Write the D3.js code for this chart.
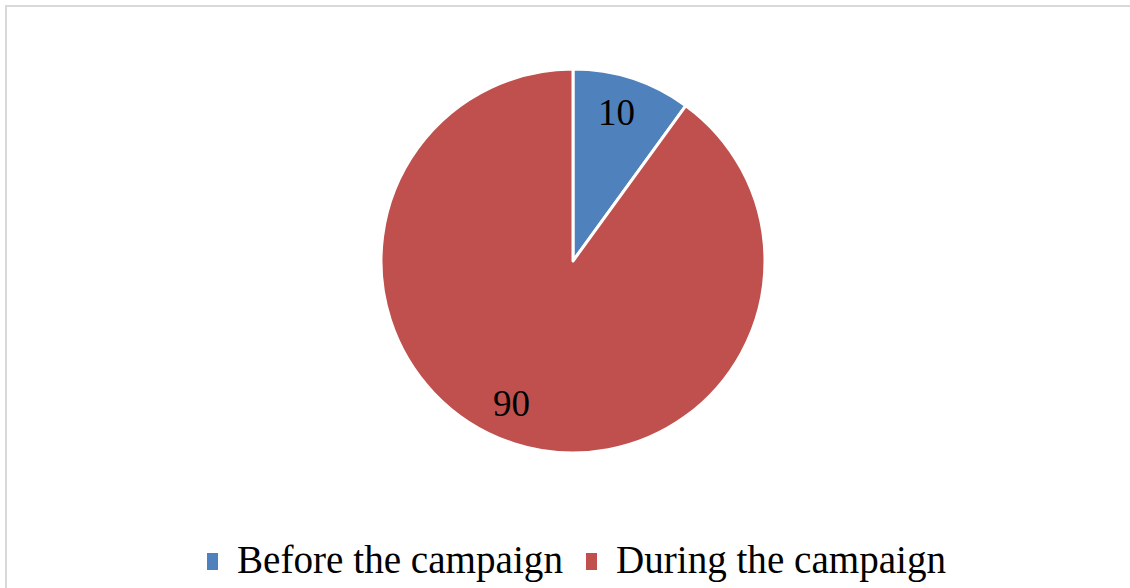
<!DOCTYPE html>
<html><head><meta charset="utf-8">
<script src="https://cdn.jsdelivr.net/npm/d3@7"></script>
<style>html,body{margin:0;padding:0;background:#fff;overflow:hidden}</style>
</head><body>
<svg id="c" width="1130" height="588"></svg>
<script>
const categories = ["Before the campaign", "During the campaign"];
const values = [10, 90];
const colors = ["#4f81bd", "#c0504d"];

const svg = d3.select("#c");
svg.append("rect").attr("x", 6).attr("y", 6).attr("width", 1140).attr("height", 600)
  .attr("fill", "none").attr("stroke", "#d9d9d9").attr("stroke-width", 2);

const cx = 573, cy = 261, R = 192;
const pie = d3.pie().sort(null).value(d => d)(values);
const arc = d3.arc().innerRadius(0).outerRadius(R);
const labelArc = d3.arc().innerRadius(154).outerRadius(154);
// Excel-like label nudges (px)
const nudgeX = [-4, -14], nudgeY = [-2, -3];
const g = svg.append("g").attr("transform", `translate(${cx},${cy})`);
g.selectAll("path").data(pie).join("path")
  .attr("d", arc).attr("fill", (d, i) => colors[i])
  .attr("stroke", "#fff").attr("stroke-width", 3).attr("stroke-linejoin", "round");
g.selectAll("text").data(pie).join("text")
  .attr("x", (d, i) => labelArc.centroid(d)[0] + nudgeX[i])
  .attr("y", (d, i) => labelArc.centroid(d)[1] + 12 + nudgeY[i])
  .attr("text-anchor", "middle")
  .attr("font-family", "Liberation Serif, serif").attr("font-size", 37)
  .attr("fill", "#000")
  .text(d => d.data);

const legX = [207, 586], textW = [326, 330];
const leg = svg.append("g");
categories.forEach((c, i) => {
  leg.append("rect").attr("x", legX[i]).attr("y", 553).attr("width", 11).attr("height", 17).attr("fill", colors[i]);
  leg.append("text").attr("x", legX[i] + 30).attr("y", 573)
    .attr("font-family", "Liberation Serif, serif").attr("font-size", 41)
    .attr("textLength", textW[i]).attr("lengthAdjust", "spacingAndGlyphs")
    .attr("fill", "#000").text(c);
});
</script>
</body></html>
